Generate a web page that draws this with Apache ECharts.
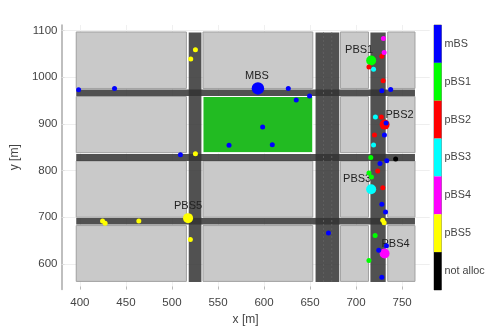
<!DOCTYPE html>
<html>
<head>
<meta charset="utf-8">
<style>
  html, body { margin: 0; padding: 0; background: #fff; }
  #chart { width: 496px; height: 326px; }
</style>
<script src="https://cdn.jsdelivr.net/npm/echarts@6/dist/echarts.min.js"></script>
</head>
<body>
<div id="chart"></div>
<script>
// tick labels
const xTicks = [400, 450, 500, 550, 600, 650, 700, 750];
const yTicks = [600, 700, 800, 900, 1000, 1100];

// street map, in metres
const blockCols = [[396, 515.7], [533.7, 653], [683, 713.5], [734.4, 764]];
const blockRows = [[1097, 976], [958.7, 838.3], [820.4, 700], [682, 562.4]];
const parkBlock = [533.7, 653, 958.7, 838.3];
const roadsV = [[518.2, 532, 561, 1096], [656, 681.7, 561, 1096], [715.6, 732.2, 561, 1096]];
const roadsH = [[396, 764, 960, 973.8], [396, 764, 820.4, 835.5], [396, 764, 684.3, 698.5]];
const medianX = [664.6, 673.6];

// base stations
const stationNames = ['MBS', 'PBS1', 'PBS2', 'PBS3', 'PBS4', 'PBS5'];
const stationX = [593.4, 716.4, 731, 716.4, 731, 517.5];
const stationY = [976, 1036, 898.5, 760, 622, 698];

// users per serving cell
const mbsUsers = [[398.6, 973], [437.6, 976], [509.2, 834], [562, 854], [626.4, 976], [649.5, 960], [635, 951],
  [598.5, 893.5], [609, 855.5], [728, 971], [737.6, 974], [732.6, 902], [730.8, 876], [733.3, 821], [726, 815],
  [728, 728], [732, 711], [670, 666], [733, 639], [724.6, 629], [728, 571]];
const pbs1Users = [[716, 828], [714, 795], [716.7, 786], [720.7, 661], [714, 607]];
const pbs2Users = [[728, 1045], [714, 1022], [729.4, 992.5], [727.5, 915], [720, 876], [723.5, 799], [729, 763]];
const pbs3Users = [[719, 1017], [721, 915], [719, 855]];
const pbs4Users = [[729.7, 1083], [730.5, 1053]];
const pbs5Users = [[525.5, 1059], [520.4, 1039], [525.5, 836], [424.6, 692], [427.4, 687], [464, 692], [520, 652],
  [729, 693.5], [730.5, 688]];
const notAllocUsers = [[743, 825]];

// colour bar
const cellNames = ['mBS', 'pBS1', 'pBS2', 'pBS3', 'pBS4', 'pBS5', 'not alloc'];
const cellColors = ['#0000ff', '#00ff00', '#ff0000', '#00ffff', '#ff00ff', '#ffff00', '#000000'];

const chart = echarts.init(document.getElementById('chart'), null, { renderer: 'canvas' });

const blocks = [];
blockCols.forEach(c => blockRows.forEach(r => {
  if (c[0] === parkBlock[0] && r[0] === parkBlock[2]) return;
  blocks.push([c[0], c[1], r[0], r[1]]);
}));

// rectangle drawn through the axis scales
const rectItem = (style) => (params, api) => {
  const p0 = api.coord([api.value(0), api.value(2)]);
  const p1 = api.coord([api.value(1), api.value(3)]);
  return {
    type: 'rect',
    shape: { x: Math.min(p0[0], p1[0]), y: Math.min(p0[1], p1[1]),
      width: Math.abs(p1[0] - p0[0]), height: Math.abs(p1[1] - p0[1]) },
    style: style
  };
};

const rectSeries = (data, style, z) => ({
  type: 'custom', xAxisIndex: 0, yAxisIndex: 0, z: z, silent: true,
  renderItem: rectItem(style), data: data, clip: false,
  encode: { x: [0, 1], y: [2, 3] }
});

// label shift of each station name, px
const labelShift = [[-1, -12], [-12, -10], [15, -10], [-14, -10], [11, -10], [0, -12]];

const stationData = stationNames.map((n, i) => ({
  value: [stationX[i], stationY[i]],
  symbolSize: i === 0 ? 12.5 : 10,
  itemStyle: { color: cellColors[i] },
  label: { show: true, formatter: n, position: 'inside', offset: labelShift[i],
    color: '#222', fontSize: 11, fontFamily: 'Liberation Sans' }
}));

const userGroups = [mbsUsers, pbs1Users, pbs2Users, pbs3Users, pbs4Users, pbs5Users, notAllocUsers];

const option = {
  animation: false,
  backgroundColor: '#fff',
  grid: [
    { left: 61.5, top: 25, width: 368.2, height: 264.5, outerBoundsMode: 'none' },
    { left: 434, top: 25, width: 7.5, height: 265, show: true, borderColor: '#8c8c8c', borderWidth: 1,
      backgroundColor: 'transparent', outerBoundsMode: 'none' }
  ],
  xAxis: [
    {
      type: 'value', gridIndex: 0, min: 380, max: 780,
      name: 'x [m]', nameLocation: 'middle', nameGap: 22,
      nameTextStyle: { color: '#444', fontSize: 12, fontFamily: 'Liberation Sans' },
      axisLine: { show: false },
      axisTick: { show: true, inside: true, length: 3, lineStyle: { color: '#bbb' }, customValues: xTicks },
      axisLabel: { color: '#444', fontSize: 11.5, fontFamily: 'Liberation Sans', margin: 7, customValues: xTicks,
        formatter: v => String(v) },
      splitLine: { show: true, lineStyle: { color: '#f0f0f0', width: 1 } }
    },
    { type: 'value', gridIndex: 1, min: 0, max: 1, show: false }
  ],
  yAxis: [
    {
      type: 'value', gridIndex: 0, min: 545, max: 1112,
      name: 'y [m]', nameLocation: 'middle', nameGap: 33,
      nameTextStyle: { color: '#444', fontSize: 12, fontFamily: 'Liberation Sans' },
      axisLine: { show: true, lineStyle: { color: '#aaa', width: 1.5 } },
      axisTick: { show: true, inside: true, length: 3, lineStyle: { color: '#ddd' }, customValues: yTicks },
      axisLabel: { color: '#444', fontSize: 11.5, fontFamily: 'Liberation Sans', margin: 4, customValues: yTicks,
        formatter: v => String(v) },
      splitLine: { show: true, lineStyle: { color: '#eee', width: 1 } }
    },
    {
      type: 'category', gridIndex: 1, inverse: true, data: cellNames, position: 'right',
      axisLine: { show: false },
      axisTick: { show: false },
      axisLabel: { color: '#444', fontSize: 10.8, fontFamily: 'Liberation Sans', margin: 3, interval: 0 }
    }
  ],
  series: [
    rectSeries(blocks, { fill: '#c9c9c9', stroke: '#a0a0a0', lineWidth: 1 }, 2),
    rectSeries([parkBlock], { fill: '#22bb22', stroke: '#ffffff', lineWidth: 1 }, 2),
    rectSeries(roadsV, { fill: 'rgba(50,50,50,0.85)' }, 3),
    rectSeries(roadsH, { fill: 'rgba(50,50,50,0.85)' }, 3),
    {
      type: 'custom', xAxisIndex: 0, yAxisIndex: 0, z: 4, silent: true, clip: false,
      data: medianX.map(x => [x, roadsV[1][2], roadsV[1][3]]),
      encode: { x: 0, y: [1, 2] },
      renderItem: (params, api) => {
        const a = api.coord([api.value(0), api.value(1)]);
        const b = api.coord([api.value(0), api.value(2)]);
        return { type: 'line', shape: { x1: a[0], y1: a[1], x2: b[0], y2: b[1] },
          style: { stroke: '#5f5f5f', lineWidth: 1, lineDash: [2, 2] } };
      }
    },
    { type: 'scatter', xAxisIndex: 0, yAxisIndex: 0, z: 5, data: stationData, itemStyle: { opacity: 1 } }
  ].concat(userGroups.map((pts, i) => ({
    type: 'scatter', xAxisIndex: 0, yAxisIndex: 0, z: 6, data: pts, symbolSize: 5,
    itemStyle: { color: cellColors[i], opacity: 1 }
  }))).concat([{
    type: 'bar', xAxisIndex: 1, yAxisIndex: 1, barWidth: '100%', silent: true,
    data: cellNames.map((n, i) => ({ value: 1, itemStyle: { color: cellColors[i] } }))
  }])
};

chart.setOption(option);
</script>
</body>
</html>
